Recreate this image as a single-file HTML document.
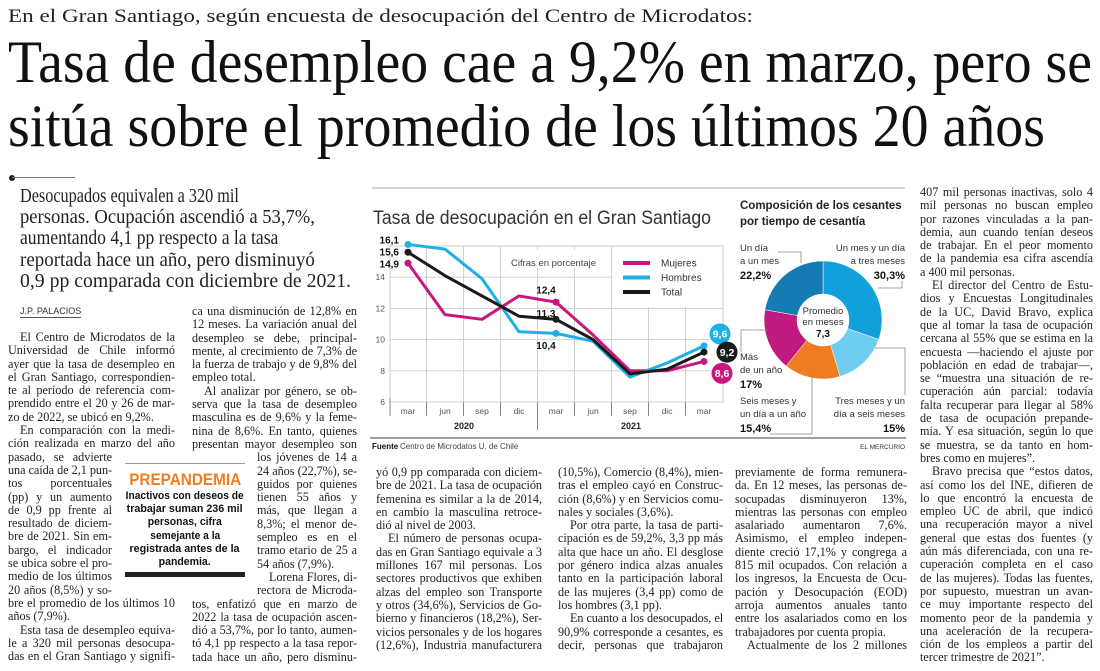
<!DOCTYPE html>
<html><head><meta charset="utf-8">
<style>
html,body{margin:0;padding:0;background:#fff;}
body{width:1100px;height:671px;position:relative;overflow:hidden;font-family:"Liberation Serif",serif;color:#1e1e1e;}
.fit{position:absolute;white-space:nowrap;transform-origin:0 0;}
.cfit{white-space:nowrap;display:inline-block;transform-origin:50% 0;flex:none;}
.cl{display:flex;justify-content:center;width:120px;height:13.2px;}
.col{position:absolute;font:12.2px/13.3px "Liberation Serif",serif;color:#222;}
.col>div{height:13.3px;text-align:justify;text-align-last:justify;overflow:visible;white-space:normal;}
.col>div.e{text-align-last:left;}
.col>div.i{text-indent:12px;}
.c1 .n{width:104px;}
.c2 .n{margin-left:65px;}
svg text{font-family:"Liberation Sans",sans-serif;}
</style></head><body>

<div class="fit" data-w="745" style="left:8px;top:5px;font-size:19px;line-height:24px;color:#222;">En el Gran Santiago, según encuesta de desocupación del Centro de Microdatos:</div>
<div class="fit" data-w="1084" style="left:8px;top:28px;font-size:60px;line-height:68px;color:#111;">Tasa de desempleo cae a 9,2% en marzo, pero se</div>
<div class="fit" data-w="1037" style="left:8px;top:92px;font-size:60px;line-height:68px;color:#111;">sitúa sobre el promedio de los últimos 20 años</div>

<div style="position:absolute;left:9px;top:175px;width:6px;height:6px;border-radius:50%;background:#222;"></div>
<div style="position:absolute;left:12px;top:177px;width:63px;height:1px;background:#777;"></div>
<div style="position:absolute;left:20px;top:186px;font-size:19.5px;line-height:21.2px;color:#222;">
<div class="fit" style="position:relative;" data-w="272">Desocupados equivalen a 320 mil</div>
<div class="fit" style="position:relative;" data-w="312">personas. Ocupación ascendió a 53,7%,</div>
<div class="fit" style="position:relative;" data-w="295">aumentando 4,1 pp respecto a la tasa</div>
<div class="fit" style="position:relative;" data-w="318">reportada hace un año, pero disminuyó</div>
<div class="fit" style="position:relative;" data-w="331">0,9 pp comparada con diciembre de 2021.</div>
</div>

<div style="position:absolute;left:20px;top:306px;font:9px 'Liberation Sans',sans-serif;color:#333;border-bottom:1px solid #555;padding-bottom:1px;">J.P. PALACIOS</div>

<div class="col c1" style="left:8px;top:331px;width:167px;">
<div class="i">El Centro de Microdatos de la</div>
<div>Universidad de Chile informó</div>
<div>ayer que la tasa de desempleo en</div>
<div>el Gran Santiago, correspondien-</div>
<div>te al período de referencia com-</div>
<div>prendido entre el 20 y 26 de mar-</div>
<div class="e">zo de 2022, se ubicó en 9,2%.</div>
<div class="i">En comparación con la medi-</div>
<div>ción realizada en marzo del año</div>
<div class="n">pasado, se advierte</div>
<div class="n">una caída de 2,1 pun-</div>
<div class="n">tos porcentuales</div>
<div class="n">(pp) y un aumento</div>
<div class="n">de 0,9 pp frente al</div>
<div class="n">resultado de diciem-</div>
<div class="n">bre de 2021. Sin em-</div>
<div class="n">bargo, el indicador</div>
<div class="n">se ubica sobre el pro-</div>
<div class="n">medio de los últimos</div>
<div class="n">20 años (8,5%) y so-</div>
<div>bre el promedio de los últimos 10</div>
<div class="e">años (7,9%).</div>
<div class="i">Esta tasa de desempleo equiva-</div>
<div>le a 320 mil personas desocupa-</div>
<div>das en el Gran Santiago y signifi-</div>
</div>

<div class="col c2" style="left:192px;top:305px;width:165px;">
<div>ca una disminución de 12,8% en</div>
<div>12 meses. La variación anual del</div>
<div>desempleo se debe, principal-</div>
<div>mente, al crecimiento de 7,3% de</div>
<div>la fuerza de trabajo y de 9,8% del</div>
<div class="e">empleo total.</div>
<div class="i">Al analizar por género, se ob-</div>
<div>serva que la tasa de desempleo</div>
<div>masculina es de 9,6% y la feme-</div>
<div>nina de 8,6%. En tanto, quienes</div>
<div>presentan mayor desempleo son</div>
<div class="n">los jóvenes de 14 a</div>
<div class="n">24 años (22,7%), se-</div>
<div class="n">guidos por quienes</div>
<div class="n">tienen 55 años y</div>
<div class="n">más, que llegan a</div>
<div class="n">8,3%; el menor de-</div>
<div class="n">sempleo es en el</div>
<div class="n">tramo etario de 25 a</div>
<div class="n e">54 años (7,9%).</div>
<div class="n i">Lorena Flores, di-</div>
<div class="n">rectora de Microda-</div>
<div>tos, enfatizó que en marzo de</div>
<div>2022 la tasa de ocupación ascen-</div>
<div>dió a 53,7%, por lo tanto, aumen-</div>
<div>tó 4,1 pp respecto a la tasa repor-</div>
<div>tada hace un año, pero disminu-</div>
</div>

<div style="position:absolute;left:125px;top:463px;width:120px;height:114px;background:#fff;border-top:1px solid #999;">
<div class="cl" style="position:absolute;left:0;top:7px;height:18px;font:bold 17px/18px 'Liberation Sans',sans-serif;color:#f07d22;"><span class="cfit" data-w="112">PREPANDEMIA</span></div>
<div style="position:absolute;left:0;top:26px;width:120px;font:bold 11.2px/13.2px 'Liberation Sans',sans-serif;color:#111;">
<div class="cl"><span class="cfit" data-w="118">Inactivos con deseos de</span></div>
<div class="cl"><span class="cfit" data-w="116">trabajar suman 236 mil</span></div>
<div class="cl"><span class="cfit" data-w="74">personas, cifra</span></div>
<div class="cl"><span class="cfit" data-w="70">semejante a la</span></div>
<div class="cl"><span class="cfit" data-w="110">registrada antes de la</span></div>
<div class="cl"><span class="cfit" data-w="52">pandemia.</span></div>
</div>
<div style="position:absolute;left:0;top:108px;width:120px;height:5px;background:#222;"></div>
</div>

<div class="col" style="left:376px;top:466px;width:166px;">
<div>yó 0,9 pp comparada con diciem-</div>
<div>bre de 2021. La tasa de ocupación</div>
<div>femenina es similar a la de 2014,</div>
<div>en cambio la masculina retroce-</div>
<div class="e">dió al nivel de 2003.</div>
<div class="i">El número de personas ocupa-</div>
<div>das en Gran Santiago equivale a 3</div>
<div>millones 167 mil personas. Los</div>
<div>sectores productivos que exhiben</div>
<div>alzas del empleo son Transporte</div>
<div>y otros (34,6%), Servicios de Go-</div>
<div>bierno y financieros (18,2%), Ser-</div>
<div>vicios personales y de los hogares</div>
<div>(12,6%), Industria manufacturera</div>
</div>

<div class="col" style="left:558px;top:466px;width:165px;">
<div>(10,5%), Comercio (8,4%), mien-</div>
<div>tras el empleo cayó en Construc-</div>
<div>ción (8,6%) y en Servicios comu-</div>
<div class="e">nales y sociales (3,6%).</div>
<div class="i">Por otra parte, la tasa de parti-</div>
<div>cipación es de 59,2%, 3,3 pp más</div>
<div>alta que hace un año. El desglose</div>
<div>por género indica alzas anuales</div>
<div>tanto en la participación laboral</div>
<div>de las mujeres (3,4 pp) como de</div>
<div class="e">los hombres (3,1 pp).</div>
<div class="i">En cuanto a los desocupados, el</div>
<div>90,9% corresponde a cesantes, es</div>
<div>decir, personas que trabajaron</div>
</div>

<div class="col" style="left:735px;top:466px;width:172px;">
<div>previamente de forma remunera-</div>
<div>da. En 12 meses, las personas de-</div>
<div>socupadas disminuyeron 13%,</div>
<div>mientras las personas con empleo</div>
<div>asalariado aumentaron 7,6%.</div>
<div>Asimismo, el empleo indepen-</div>
<div>diente creció 17,1% y congrega a</div>
<div>815 mil ocupados. Con relación a</div>
<div>los ingresos, la Encuesta de Ocu-</div>
<div>pación y Desocupación (EOD)</div>
<div>arroja aumentos anuales tanto</div>
<div>entre los asalariados como en los</div>
<div class="e">trabajadores por cuenta propia.</div>
<div class="i">Actualmente de los 2 millones</div>
</div>

<div class="col" style="left:920px;top:186px;width:173px;">
<div>407 mil personas inactivas, solo 4</div>
<div>mil personas no buscan empleo</div>
<div>por razones vinculadas a la pan-</div>
<div>demia, aun cuando tenían deseos</div>
<div>de trabajar. En el peor momento</div>
<div>de la pandemia esa cifra ascendía</div>
<div class="e">a 400 mil personas.</div>
<div class="i">El director del Centro de Estu-</div>
<div>dios y Encuestas Longitudinales</div>
<div>de la UC, David Bravo, explica</div>
<div>que al tomar la tasa de ocupación</div>
<div>cercana al 55% que se estima en la</div>
<div>encuesta —haciendo el ajuste por</div>
<div>población en edad de trabajar—,</div>
<div>se “muestra una situación de re-</div>
<div>cuperación aún parcial: todavía</div>
<div>falta recuperar para llegar al 58%</div>
<div>de tasa de ocupación prepande-</div>
<div>mia. Y esa situación, según lo que</div>
<div>se muestra, se da tanto en hom-</div>
<div class="e">bres como en mujeres”.</div>
<div class="i">Bravo precisa que “estos datos,</div>
<div>así como los del INE, difieren de</div>
<div>lo que encontró la encuesta de</div>
<div>empleo UC de abril, que indicó</div>
<div>una recuperación mayor a nivel</div>
<div>general que estas dos fuentes (y</div>
<div>aún más diferenciada, con una re-</div>
<div>cuperación completa en el caso</div>
<div>de las mujeres). Todas las fuentes,</div>
<div>por supuesto, muestran un avan-</div>
<div>ce muy importante respecto del</div>
<div>momento peor de la pandemia y</div>
<div>una aceleración de la recupera-</div>
<div>ción de los empleos a partir del</div>
<div class="e">tercer trimestre de 2021”.</div>
</div>

<svg id="chart" width="1100" height="671" style="position:absolute;left:0;top:0;" xmlns="http://www.w3.org/2000/svg">
<line x1="372" y1="188" x2="905" y2="188" stroke="#aaa" stroke-width="1"/>
<text x="373" y="224" font-size="19" fill="#333" textLength="338" lengthAdjust="spacingAndGlyphs">Tasa de desocupación en el Gran Santiago</text>
<g id="grid"></g>
<g id="axes"></g>
<g id="series"></g>
<g id="donut"></g>
<line x1="370" y1="438" x2="906" y2="438" stroke="#666" stroke-width="1.2"/>
<text x="372" y="449" font-size="8" fill="#111" font-weight="bold">Fuente</text>
<text x="400" y="449" font-size="8" fill="#444">Centro de Microdatos U. de Chile</text>
<text x="905" y="449" font-size="6.5" fill="#333" text-anchor="end">EL MERCURIO</text>
</svg>

<script>
// ---- line chart data ----
const categories = ['mar','jun','sep','dic','mar','jun','sep','dic','mar'];
const years = ['2020','2021'];
const yTicks = [6,8,10,12,14];
const mujeres = [14.9,11.6,11.3,12.8,12.4,10.3,8.0,8.0,8.6];
const hombres = [16.1,15.8,13.9,10.5,10.4,9.9,7.6,8.5,9.6];
const total = [15.6,14.1,12.8,11.5,11.3,10.0,7.8,8.1,9.2];
const seriesNames = ['Mujeres','Hombres','Total'];
// ---- donut data ----
const donutLabels = ['Un mes y un día a tres meses','Tres meses y un día a seis meses','Seis meses y un día a un año','Más de un año','Un día a un mes'];
const donutValues = [30.3,15,15.4,17,22.2];
const donutAverage = '7,3';

const NS='http://www.w3.org/2000/svg';
function mk(parent,tag,attrs,text){const e=document.createElementNS(NS,tag);for(const k in attrs)e.setAttribute(k,attrs[k]);if(text!==undefined)e.textContent=text;parent.appendChild(e);return e;}
const X0=408, DX=37, PL=390, PR=723, PT=246, PB=402;
const xs=i=>X0+i*DX;
const ys=v=>PB-(v-6)*15.6;
const colors={Mujeres:'#c8177e',Hombres:'#1cb0e6',Total:'#1a1a1a'};
const grid=document.getElementById('grid'), axes=document.getElementById('axes'), ser=document.getElementById('series');

mk(grid,'rect',{x:PL,y:PT,width:PR-PL,height:PB-PT,fill:'#fff',stroke:'#ccc','stroke-width':1});
yTicks.forEach(t=>{
  let l=mk(grid,'line',{x1:PL,x2:PR,y1:ys(t),y2:ys(t),stroke:'#d0d0d0','stroke-width':1});
  
  
  let tx=mk(axes,'text',{x:385,y:ys(t)+3,'font-size':8.5,fill:'#555','text-anchor':'end'},String(t));
  
  
});
for(let i=0;i<categories.length-1;i++){
  const bx=(xs(i)+xs(i+1))/2;
  mk(grid,'line',{x1:bx,x2:bx,y1:PT,y2:PB,stroke:'#d0d0d0','stroke-width':1});
  mk(axes,'line',{x1:bx,x2:bx,y1:PB,y2:i===3?430:416,stroke:'#888','stroke-width':1});
}
mk(grid,'rect',{x:505,y:250,width:100,height:18,fill:'#fff'});
mk(grid,'rect',{x:612,y:PT+1,width:PR-612-1,height:60,fill:'#fff'});
mk(axes,'line',{x1:PL,x2:PL,y1:PB-4,y2:416,stroke:'#888','stroke-width':1});
categories.forEach((c,i)=>{
  let t=mk(axes,'text',{x:xs(i),y:414,'font-size':8.5,fill:'#555','text-anchor':'middle'},c);
  
  
});
years.forEach((y,i)=>{
  let t=mk(axes,'text',{x:i===0?464:631,y:429,'font-size':9,'font-weight':'bold',fill:'#222','text-anchor':'middle'},y);
  
  
});
let ann=mk(axes,'text',{x:511,y:266,'font-size':9.5,fill:'#444'},'Cifras en porcentaje');



const data={Mujeres:mujeres,Hombres:hombres,Total:total};
['Mujeres','Hombres','Total'].forEach(n=>{
  const d=data[n];
  let p=mk(ser,'polyline',{points:d.map((v,i)=>xs(i)+','+ys(v)).join(' '),fill:'none',stroke:colors[n],'stroke-width':3,'stroke-linejoin':'round'});
  
  
  [0,4,d.length-1].forEach(i=>{
    let c=mk(ser,'circle',{cx:xs(i),cy:ys(d[i]),r:3.5,fill:colors[n]});
    
    
  });
});
seriesNames.forEach((n,i)=>{
  const y=263+i*14.5;
  let l=mk(ser,'line',{x1:623,x2:650,y1:y,y2:y,stroke:colors[n],'stroke-width':4});
  
  
  let t=mk(ser,'text',{x:661,y:y+3.5,'font-size':10,fill:'#333'},n);
  
  
});
const fmt=v=>v.toFixed(1).replace('.',',');
[[hombres[0],-12],[total[0],0],[mujeres[0],12]].forEach(([v,dy],k)=>{
  let t=mk(ser,'text',{x:399,y:ys(total[0])+dy+3.5,'font-size':10,'font-weight':'bold',fill:'#111','text-anchor':'end'},fmt(v));
  
  
});
[[mujeres[4],-12],[total[4],-6],[hombres[4],12]].forEach(([v,dy],k)=>{
  let t=mk(ser,'text',{x:xs(4)-10,y:ys(v)+dy+3.5,'font-size':10,'font-weight':'bold',fill:'#111','text-anchor':'middle'},fmt(v));
  
  
});
const L=categories.length-1;
[['Hombres',hombres[L],-7,-2],['Total',total[L],0,5],['Mujeres',mujeres[L],7,0]].forEach(([n,v,dy,dx])=>{
  const cy=ys(v)+dy*1.7, cx=xs(L)+18+dx;
  mk(ser,'circle',{cx:cx,cy:cy,r:10.5,fill:colors[n]});
  let t=mk(ser,'text',{x:cx,y:cy+3.8,'font-size':10.5,'font-weight':'bold',fill:'#fff','text-anchor':'middle'},fmt(v));
  
  
});

// ---- donut ----
const dg=document.getElementById('donut');
const dcol=['#12a0dc','#70cdf2','#f07d22','#c0197f','#157bb5'];
const CX=823, CY=320, RO=59, RI=26;
const sum=donutValues.reduce((a,b)=>a+b,0);
let acc=0;
function pt(r,a){return [CX+r*Math.sin(a),CY-r*Math.cos(a)];}
donutValues.forEach((v,i)=>{
  const a0=acc/sum*2*Math.PI; acc+=v; const a1=acc/sum*2*Math.PI;
  const big=(a1-a0)>Math.PI?1:0;
  const [x0,y0]=pt(RO,a0),[x1,y1]=pt(RO,a1),[x2,y2]=pt(RI,a1),[x3,y3]=pt(RI,a0);
  let p=mk(dg,'path',{d:`M${x0},${y0}A${RO},${RO} 0 ${big} 1 ${x1},${y1}L${x2},${y2}A${RI},${RI} 0 ${big} 0 ${x3},${y3}Z`,fill:dcol[i],stroke:'#fff','stroke-width':0.5});
  
  
});
mk(dg,'text',{x:740,y:209,'font-size':11.5,'font-weight':'bold',fill:'#222'},'Composición de los cesantes');
mk(dg,'text',{x:740,y:225,'font-size':11.5,'font-weight':'bold',fill:'#222'},'por tiempo de cesantía');
mk(dg,'text',{x:CX,y:314,'font-size':9.5,fill:'#333','text-anchor':'middle'},'Promedio');
mk(dg,'text',{x:CX,y:325,'font-size':9.5,fill:'#333','text-anchor':'middle'},'en meses');
mk(dg,'text',{x:CX,y:337,'font-size':10,'font-weight':'bold',fill:'#111','text-anchor':'middle'},donutAverage);
const pct=v=>String(v).replace('.',',')+'%';
const dlab=[
 {x:905,y:251,a:'end',l:['Un mes y un día','a tres meses'],v:donutValues[0]},
 {x:905,y:404,a:'end',l:['Tres meses y un','día a seis meses'],v:donutValues[1]},
 {x:740,y:404,a:'start',l:['Seis meses y','un día a un año'],v:donutValues[2]},
 {x:740,y:360,a:'start',l:['Más','de un año'],v:donutValues[3]},
 {x:740,y:251,a:'start',l:['Un día','a un mes'],v:donutValues[4]}
];
dlab.forEach((d,i)=>{
  d.l.forEach((s,k)=>mk(dg,'text',{x:d.x,y:d.y+k*13,'font-size':9.5,fill:'#333','text-anchor':d.a},s));
  let t=mk(dg,'text',{x:d.x,y:d.y+d.l.length*13+2,'font-size':11,'font-weight':'bold',fill:'#111','text-anchor':d.a},pct(d.v));
  
  
});
const ls={stroke:'#888','stroke-width':0.8,fill:'none'};
mk(dg,'polyline',Object.assign({points:'778,252 801,252 801,263'},ls));
mk(dg,'polyline',Object.assign({points:'878,288 902,288 902,281'},ls));
mk(dg,'polyline',Object.assign({points:'875,348 905,348 905,395'},ls));
mk(dg,'polyline',Object.assign({points:'770,434 812,434 812,375'},ls));
mk(dg,'polyline',Object.assign({points:'768,330 741,330 741,352'},ls));

// ---- text fitting ----
document.querySelectorAll('.fit[data-w], .cfit[data-w]').forEach(el=>{
  const w=el.getBoundingClientRect().width, t=+el.dataset.w;
  el.style.transform='scaleX('+(t/w)+')';
});
document.querySelectorAll('.col>div').forEach(d=>{
  const ws=d.style.whiteSpace, tal=d.style.textAlignLast;
  d.style.whiteSpace='nowrap'; d.style.textAlignLast='left'; d.style.textAlign='left';
  const r=document.createRange(); r.selectNodeContents(d);
  const w=r.getBoundingClientRect().width;
  const cs=getComputedStyle(d);
  const avail=d.clientWidth-parseFloat(cs.textIndent||0);
  if(w>avail-0.5){const n=d.textContent.length; d.style.letterSpacing=((avail-w)/n-0.03)+'px';}
  d.style.whiteSpace=ws; d.style.textAlignLast=tal; d.style.textAlign='';
});
</script>
</body></html>
